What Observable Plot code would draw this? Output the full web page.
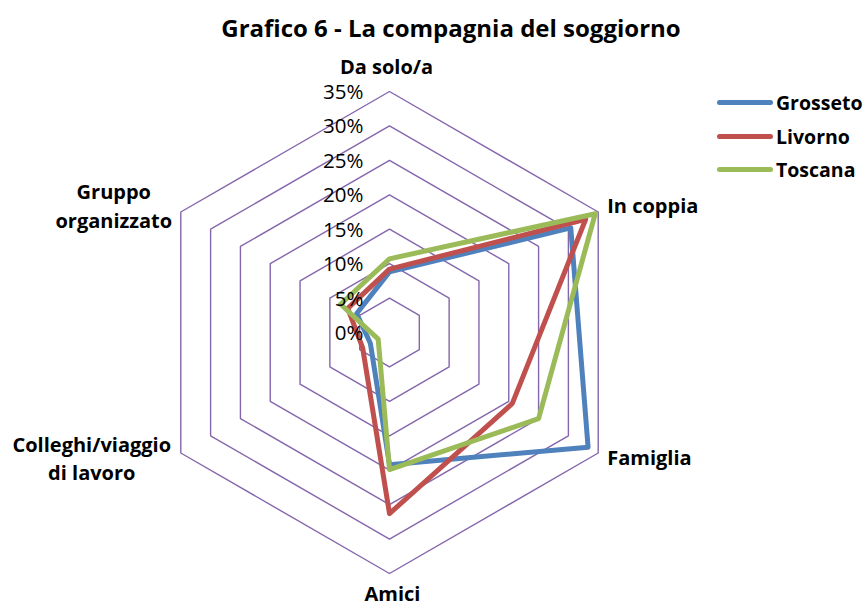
<!DOCTYPE html>
<html>
<head>
<meta charset="utf-8">
<script src="https://cdn.jsdelivr.net/npm/d3@7"></script>
<script src="https://cdn.jsdelivr.net/npm/@observablehq/plot@0.6"></script>
<style>
  body { margin: 0; background: #fff; }
  #wrap { position: relative; width: 866px; height: 607px; font-family: "Open Sans", sans-serif; overflow: hidden; }
  #legend { position: absolute; left: 717px; top: 86px; }
  .row { display: flex; align-items: center; height: 33.5px; font-weight: bold; font-size: 19.5px; color: #000; white-space: nowrap; }
  .sw { width: 56px; height: 5px; border-radius: 3px; margin-right: 3px; flex: none; }
</style>
</head>
<body>
<div id="wrap"></div>
<script>
const title = "Grafico 6 - La compagnia del soggiorno";
const categories = ["Da solo/a", "In coppia", "Famiglia", "Amici", "Colleghi/viaggio\ndi lavoro", "Gruppo\norganizzato"];
const seriesNames = ["Grosseto", "Livorno", "Toscana"];
const grosseto = [8.8, 30.4, 33.3, 19.2, 3.2, 5.5];
const livorno = [9.2, 32.9, 20.6, 26.3, 4.5, 7.0];
const toscana = [10.7, 34.5, 25.0, 19.9, 1.9, 8.2];
const tickValues = [0, 5, 10, 15, 20, 25, 30, 35];
const tickLabels = ["0%", "5%", "10%", "15%", "20%", "25%", "30%", "35%"];

const colors = ["#4F81BD", "#C0504D", "#9BBB59"];
const seriesValues = [grosseto, livorno, toscana];
const n = categories.length;
const ang = i => i * 2 * Math.PI / n;
const px = (r, i) => r * Math.sin(ang(i));
const py = (r, i) => r * Math.cos(ang(i));

// grid rings
const rings = [];
tickValues.filter(t => t > 0).forEach(t => {
  categories.forEach((c, i) => rings.push({ring: t, x: px(t, i), y: py(t, i)}));
});

// series points
const pts = [];
seriesNames.forEach((s, k) => {
  seriesValues[k].forEach((v, i) => pts.push({series: s, x: px(v, i), y: py(v, i)}));
});

const labels = categories.map((c, i) => ({label: c, x: px(35, i), y: py(35, i), i}));
const labelStyle = [
  {dx: -3, dy: -27, anchor: "middle"},
  {dx: 9, dy: -8, anchor: "start"},
  {dx: 9, dy: 3, anchor: "start"},
  {dx: 3, dy: 18.5, anchor: "middle"},
  {dx: -89, dy: 4, anchor: "middle"},
  {dx: -67, dy: -7.5, anchor: "middle"}
];

const chart = Plot.plot({
  width: 866,
  height: 607,
  margin: 0,
  x: {domain: [-35, 35], range: [148, 630], axis: null},
  y: {domain: [-35, 35], range: [573, 91], axis: null},
  style: {fontFamily: "'Open Sans', sans-serif", background: "#fff", color: "#000", overflow: "visible"},
  marks: [
    Plot.line(rings, {x: "x", y: "y", z: "ring", curve: "linear-closed", stroke: "#8466AC", strokeWidth: 1.4}),
    ...seriesNames.map((s, k) => Plot.line(pts.filter(d => d.series === s), {
      x: "x", y: "y", curve: "linear-closed", stroke: colors[k], strokeWidth: 5, strokeLinejoin: "round"
    })),
    Plot.text(tickValues, {x: 0, y: d => d, text: (d, i) => tickLabels[i], textAnchor: "end", dx: -26, dy: 1, fontSize: 20.5, fill: "#000"}),
    ...labels.map(l => Plot.text([l], {
      x: "x", y: "y", text: "label", textAnchor: labelStyle[l.i].anchor,
      dx: labelStyle[l.i].dx, dy: labelStyle[l.i].dy, fontSize: 20, fontWeight: "bold", lineHeight: 1.42, fill: "#000"
    })),
    Plot.text([title], {frameAnchor: "top", lineAnchor: "middle", dx: 17.5, dy: 29, fontSize: 24, fontWeight: "bold", fill: "#000"})
  ]
});

const wrap = document.getElementById("wrap");
wrap.appendChild(chart);
const legend = document.createElement("div");
legend.id = "legend";
seriesNames.forEach((s, k) => {
  const row = document.createElement("div");
  row.className = "row";
  const sw = document.createElement("span");
  sw.className = "sw";
  sw.style.background = colors[k];
  row.appendChild(sw);
  row.appendChild(document.createTextNode(s));
  legend.appendChild(row);
});
wrap.appendChild(legend);
</script>
</body>
</html>
